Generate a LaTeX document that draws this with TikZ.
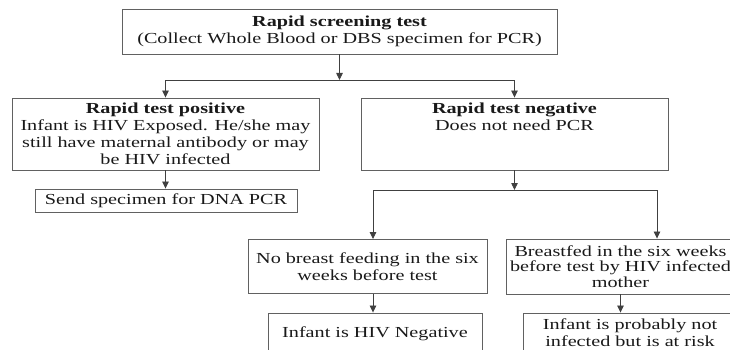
\documentclass[tikz,border=0pt]{standalone}
\usepackage{fontspec}
\setmainfont{Liberation Serif}[FakeStretch=1.32]
\usetikzlibrary{arrows.meta}
\begin{document}
\begin{tikzpicture}[x=1pt,y=-1pt,
  box/.style={draw=black!62, line width=0.9pt, inner sep=0pt, align=center,
    text=black!90, font=\fontsize{15.3}{17}\selectfont},
  arr/.style={draw=black!75, line width=0.8pt, -{Triangle[width=6.5pt,length=7pt]}},
  ln/.style={draw=black!62, line width=0.9pt}]
\useasboundingbox (0,0) rectangle (730,350);
\clip (0,0) rectangle (730,350);
% boxes
\node[box, minimum width=435, minimum height=45] (top) at (339.5,31.5)
  {\textbf{Rapid screening test}\\(Collect Whole Blood or DBS specimen for PCR)};
\node[box, minimum width=307, minimum height=72] (pos) at (165.5,134)
  {\textbf{Rapid test positive}\\Infant is HIV Exposed. He/she may\\still have maternal antibody or may\\be HIV infected};
\node[box, minimum width=262, minimum height=23] (send) at (166,200.5)
  {Send specimen for DNA PCR};
\node[box, minimum width=307, minimum height=72] (neg) at (514.5,134)
  {\textbf{Rapid test negative}\\Does not need PCR\\~\\~};
\node[box, minimum width=239, minimum height=54] (nobf) at (367.5,266.5)
  {No breast feeding in the six\\weeks before test};
\node[box, minimum width=229, minimum height=55, font=\fontsize{15.3}{15.8}\selectfont] (bf) at (620.5,266.5)
  {Breastfed in the six weeks\\before test by HIV infected\\mother};
\node[box, minimum width=214, minimum height=42] (hivneg) at (375,334)
  {Infant is HIV Negative};
\node[box, minimum width=214, minimum height=40] (risk) at (630,333)
  {Infant is probably not\\infected but is at risk};
% junctions
\coordinate (j1) at (339.5,80);
\coordinate (j2) at (514.5,190);
\coordinate (a1) at (373,190);
\coordinate (a2) at (657,190);
% connectors
\draw[arr] (top) -- (j1);
\draw[arr] (j1) -| (pos);
\draw[arr] (j1) -| (neg);
\draw[arr] (pos.south) -- (pos.south |- send.north);
\draw[arr] (neg) -- (j2);
\draw[arr] (j2) -| (a1 |- nobf.north);
\draw[arr] (j2) -| (a2 |- bf.north);
\draw[arr] (nobf.south -| a1) -- (hivneg.north -| a1);
\draw[arr] (bf.south) -- (bf.south |- risk.north);
\end{tikzpicture}
\end{document}
